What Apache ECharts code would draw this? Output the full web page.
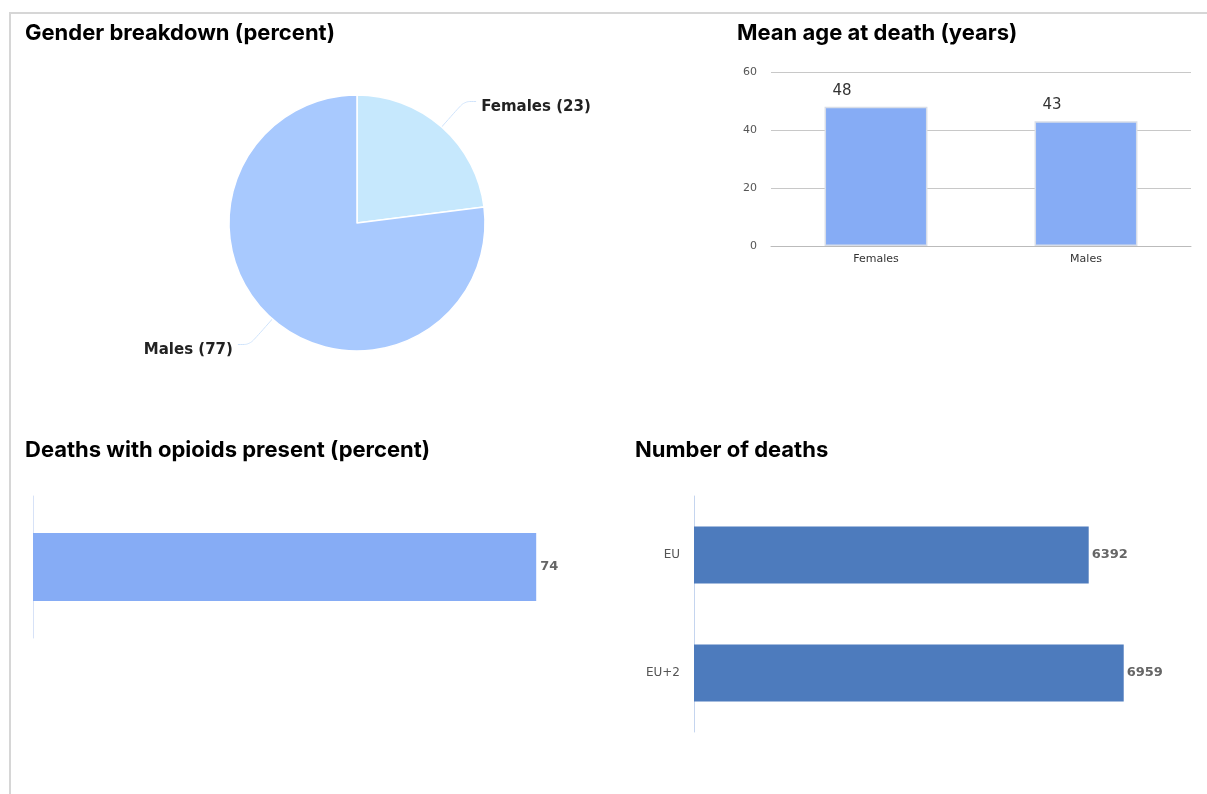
<!DOCTYPE html>
<html><head><meta charset="utf-8">
<script src="https://cdn.jsdelivr.net/npm/echarts@6/dist/echarts.min.js"></script>
<style>html,body{margin:0;padding:0;background:#fff}#c{width:1207px;height:794px}</style>
</head><body><div id="c"></div>
<script>
const pieCategories = ['Females', 'Males'];
const pieValues = [23, 77];
const ageCategories = ['Females', 'Males'];
const ageValues = [48, 43];
const opioidCategories = [''];
const opioidValues = [74];
const deathCategories = ['EU', 'EU+2'];
const deathValues = [6392, 6959];

const chart = echarts.init(document.getElementById('c'));
const titleFont = {fontFamily: 'Inter', fontWeight: 700, fontSize: 22, color: '#000'};
chart.setOption({
  animation: false,
  graphic: [
    {type: 'line', shape: {x1: 9, y1: 13, x2: 1207, y2: 13}, style: {stroke: '#d6d6d6', lineWidth: 2}},
    {type: 'line', shape: {x1: 10, y1: 13, x2: 10, y2: 794}, style: {stroke: '#d6d6d6', lineWidth: 2}}
  ],
  title: [
    {text: 'Gender breakdown (percent)', left: 25, top: 22, padding: 0, textStyle: titleFont},
    {text: 'Mean age at death (years)', left: 737, top: 22, padding: 0, textStyle: titleFont},
    {text: 'Deaths with opioids present (percent)', left: 25, top: 439, padding: 0, textStyle: titleFont},
    {text: 'Number of deaths', left: 635, top: 439, padding: 0, textStyle: titleFont}
  ],
  grid: [
    {left: 771, width: 420, top: 72, height: 174},
    {left: 33, width: 544, top: 496, height: 142},
    {left: 694, width: 494, top: 496, height: 236}
  ],
  xAxis: [
    {gridIndex: 0, type: 'category', data: ageCategories,
     axisLine: {lineStyle: {color: '#bbb'}}, axisTick: {show: false},
     axisLabel: {color: '#333', fontSize: 11, fontFamily: 'DejaVu Sans', margin: 8}},
    {gridIndex: 1, type: 'value', min: 0, max: 80, show: false},
    {gridIndex: 2, type: 'value', min: 0, max: 8000, show: false}
  ],
  yAxis: [
    {gridIndex: 0, type: 'value', min: 0, max: 60, interval: 20,
     axisLabel: {color: '#555', fontSize: 11, fontFamily: 'DejaVu Sans', margin: 14},
     splitLine: {lineStyle: {color: '#c8c8c8'}}},
    {gridIndex: 1, type: 'category', data: opioidCategories,
     axisLine: {lineStyle: {color: '#d7e2f7'}}, axisTick: {show: false}, axisLabel: {show: false}},
    {gridIndex: 2, type: 'category', data: deathCategories, inverse: true,
     axisLine: {lineStyle: {color: '#c5d5ef'}}, axisTick: {show: false},
     axisLabel: {color: '#555', fontSize: 12, fontFamily: 'DejaVu Sans', margin: 14}}
  ],
  series: [
    {type: 'pie', center: [357, 223], radius: 128, startAngle: 90, clockwise: true,
     data: pieCategories.map((n, i) => ({name: n, value: pieValues[i]})),
     color: ['#c6e8fd', '#a8c9fe'],
     itemStyle: {borderColor: '#fff', borderWidth: 1.5},
     label: {formatter: '{b} ({c})', fontFamily: 'DejaVu Sans', fontWeight: 700, fontSize: 15, color: '#222'},
     labelLine: {length: 34, length2: 12, smooth: true, lineStyle: {color: '#cfe3fb', width: 1}},
     labelLayout: function (p) { return {dy: 6}; }},
    {type: 'bar', xAxisIndex: 0, yAxisIndex: 0, data: ageValues, barWidth: '49%',
     itemStyle: {color: '#86acf5', borderColor: '#d8dde8', borderWidth: 1.5},
     label: {show: true, position: [8, -16], align: 'left', verticalAlign: 'middle', color: '#333', fontSize: 15, fontFamily: 'DejaVu Sans'}},
    {type: 'bar', xAxisIndex: 1, yAxisIndex: 1, data: opioidValues, barWidth: 68,
     itemStyle: {color: '#86acf5'},
     label: {show: true, position: 'right', distance: 4, color: '#666', fontSize: 13, fontWeight: 700, fontFamily: 'DejaVu Sans'}},
    {type: 'bar', xAxisIndex: 2, yAxisIndex: 2, data: deathValues, barWidth: 57,
     itemStyle: {color: '#4d7bbd'},
     label: {show: true, position: 'right', distance: 3, color: '#666', fontSize: 13, fontWeight: 700, fontFamily: 'DejaVu Sans'}}
  ]
});
</script></body></html>
